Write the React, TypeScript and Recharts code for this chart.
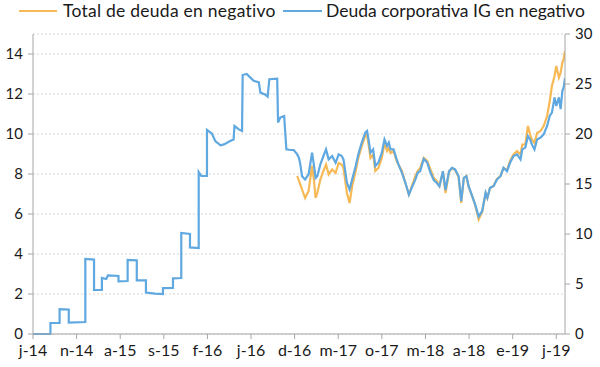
import React from 'react';
import { LineChart, Line, XAxis, YAxis, CartesianGrid } from 'recharts';

// meses desde junio 2014 (0 = j-14)
const mesesCorp = [
  0, 2.0, 2.0, 3.05, 3.05, 4.1, 4.1, 6.0, 6.0, 7.0, 7.0, 7.9, 7.9, 8.4, 8.6, 9.8, 9.8, 10.85, 10.85, 11.9,
  11.9, 12.95, 12.95, 14.0, 14.9, 14.9, 16.05, 16.05, 17.0, 17.0, 18.0, 18.0, 19.0, 19.0, 19.3, 19.95, 19.95,
  20.5, 20.9, 21.5, 21.9, 22.6, 23.0, 23.1, 23.6, 23.97, 24.04, 24.5, 24.9, 25.3, 25.9, 26.07, 26.6, 26.9,
  27.1, 28.0, 28.1, 28.36, 28.8, 29.05, 29.5, 29.9, 30.3, 30.5, 30.65, 30.85, 31.2, 31.6, 32.0, 32.2, 32.4,
  32.6, 32.95, 33.3, 33.6, 33.9, 34.3, 34.7, 35.05, 35.4, 35.6, 36.0, 36.3, 36.6, 37.0, 37.3, 37.7, 38.1,
  38.3, 38.5, 38.7, 39.0, 39.25, 39.6, 40.0, 40.3, 40.6, 40.8, 41.0, 41.35, 41.7, 41.9, 42.3, 42.7, 43.1,
  43.5, 43.85, 44.1, 44.4, 44.8, 45.2, 45.55, 45.95, 46.3, 46.6, 47.0, 47.3, 47.7, 48.05, 48.4, 48.8, 49.1,
  49.4, 49.7, 49.95, 50.3, 50.7, 51.1, 51.5, 51.9, 52.1, 52.4, 52.8, 53.2, 53.6, 53.95, 54.35, 54.7, 55.1,
  55.5, 55.9, 56.1, 56.45, 56.75, 57.0, 57.2, 57.5, 57.8, 58.2, 58.55, 58.95, 59.25, 59.5, 59.8, 60.0, 60.3,
  60.5, 60.7, 60.85, 61.0,
];

// Deuda corporativa IG en negativo (eje izquierdo)
const deudaCorp = [
  0, 0, 0.55, 0.55, 1.24, 1.22, 0.57, 0.6, 3.75, 3.72, 2.2, 2.2, 2.8, 2.75, 2.93, 2.9, 2.63, 2.65, 3.71, 3.68,
  2.68, 2.68, 2.07, 2.02, 2.0, 2.29, 2.3, 2.78, 2.8, 5.05, 5.0, 4.33, 4.3, 8.1, 7.9, 7.9, 10.2,
  10.03, 9.65, 9.43, 9.48, 9.65, 9.73, 10.4, 10.23, 10.15, 12.95, 13.0, 12.83, 12.66, 12.58, 12.07, 11.98, 11.87,
  12.74, 12.77, 10.57, 10.82, 10.9, 9.23, 9.2, 9.2, 8.98, 8.8, 8.48, 7.89, 7.73, 7.98, 9.07, 8.48, 7.8,
  7.89, 8.48, 8.9, 9.23, 8.73, 8.9, 8.56, 8.98, 8.9, 8.73, 7.56, 7.23, 7.73, 8.4, 8.98, 9.57, 10.07,
  10.15, 9.65, 9.07, 9.23, 8.4, 8.57, 9.07, 9.73, 9.4, 9.57, 9.23, 9.23, 8.73, 8.48, 8.06, 7.56, 6.97,
  7.39, 7.73, 8.06, 8.15, 8.75, 8.57, 8.1, 7.7, 7.55, 7.39, 8.14, 7.2, 8.14, 8.31, 8.23, 7.89, 6.64,
  7.81, 7.89, 7.39, 6.97, 6.47, 5.88, 6.14, 7.06, 6.81, 7.31, 7.39, 7.73, 7.89, 8.31, 8.14, 8.56, 8.9,
  8.98, 8.73, 9.23, 9.32, 9.9, 9.73, 9.48, 9.23, 9.73, 9.82, 9.98, 10.4, 10.9, 11.07, 11.83, 11.4, 11.83,
  11.24, 12.16, 12.33, 12.8,
];

const mesesTotal = [
  30.3, 30.5, 30.65, 30.85, 31.2, 31.6, 32.0, 32.2, 32.4, 32.6, 32.95, 33.3, 33.6, 33.9, 34.3, 34.7, 35.05,
  35.4, 35.6, 36.0, 36.3, 36.6, 37.0, 37.3, 37.7, 38.1, 38.3, 38.5, 38.7, 39.0, 39.25, 39.6, 40.0, 40.3,
  40.6, 40.8, 41.0, 41.35, 41.7, 41.9, 42.3, 42.7, 43.1, 43.5, 43.85, 44.1, 44.4, 44.8, 45.2, 45.55, 45.95,
  46.3, 46.6, 47.0, 47.3, 47.7, 48.05, 48.4, 48.8, 49.1, 49.4, 49.7, 49.95, 50.3, 50.7, 51.1, 51.5, 51.9,
  52.1, 52.4, 52.8, 53.2, 53.6, 53.95, 54.35, 54.7, 55.1, 55.5, 55.9, 56.1, 56.45, 56.75, 57.0, 57.2, 57.5,
  57.8, 58.2, 58.55, 58.95, 59.25, 59.5, 59.8, 60.0, 60.3, 60.5, 60.7, 60.85, 61.0,
];

// Total de deuda en negativo (eje derecho)
const deudaTotal = [
  15.8, 15.3, 14.95, 14.45, 13.6, 14.3, 16.8, 15.5, 13.6, 14.1, 15.45, 16.3, 16.95, 15.95, 16.45, 16.1, 17.1,
  16.95, 16.6, 14.1, 13.1, 14.8, 16.3, 17.6, 18.8, 19.8, 19.95, 18.8, 17.6, 17.95, 16.3, 16.6, 17.6, 19.1,
  18.3, 18.6, 18.1, 18.3, 17.3, 16.95, 16.3, 15.1, 13.95, 14.95, 15.8, 16.3, 16.6, 17.6, 17.3, 16.5, 15.6,
  15.3, 14.8, 16.2, 14.1, 16.2, 16.6, 16.4, 15.7, 13.1, 15.6, 15.8, 14.7, 13.9, 12.9, 11.45, 12.2, 14.1,
  13.6, 14.6, 14.8, 15.5, 15.8, 16.6, 16.4, 17.3, 17.95, 18.3, 17.95, 18.95, 18.95, 20.8, 19.95, 19.45, 19.1,
  20.1, 20.3, 20.8, 21.8, 23.3, 24.8, 25.8, 26.8, 25.65, 26.15, 27.15, 27.5, 28.3,
];

const etiquetasMes = ['j-14', 'n-14', 'a-15', 's-15', 'f-16', 'j-16', 'd-16', 'm-17', 'o-17', 'm-18', 'a-18', 'e-19', 'j-19'];
const ticksX = etiquetasMes.map((_, i) => i * 5);
const ticksIzq = [0, 2, 4, 6, 8, 10, 12, 14];
const ticksDer = [0, 5, 10, 15, 20, 25, 30];

const NARANJA = '#F6B955';
const AZUL = '#5FA8E0';
const FUENTE = 'Lato, "Open Sans", sans-serif';

const datosCorp = mesesCorp.map((m, i) => ({ mes: m, corp: deudaCorp[i] }));
const datosTotal = mesesTotal.map((m, i) => ({ mes: m, total: deudaTotal[i] }));

const textoLeyenda: React.CSSProperties = {
  position: 'absolute',
  top: 0,
  lineHeight: '22px',
  fontFamily: FUENTE,
  fontSize: 17.5,
  color: '#1a1a1a',
  whiteSpace: 'nowrap',
};

const Leyenda = () => (
  <div style={{ position: 'absolute', left: 0, top: 0, width: 600, height: 24 }}>
    <span style={{ position: 'absolute', left: 19, top: 10, width: 38, height: 2, background: NARANJA }} />
    <span style={{ ...textoLeyenda, left: 63, letterSpacing: 0.25 }}>Total de deuda en negativo</span>
    <span style={{ position: 'absolute', left: 283, top: 10, width: 39, height: 2, background: AZUL }} />
    <span style={{ ...textoLeyenda, left: 326 }}>Deuda corporativa IG en negativo</span>
  </div>
);

const tickStyle = { fontFamily: FUENTE, fontSize: 15, fill: '#1a1a1a' };

export default function App() {
  return (
    <div style={{ position: 'absolute', left: 0, top: 0, width: 600, height: 367, background: '#fff' }}>
      <LineChart width={600} height={367} margin={{ top: 34, right: 0, bottom: 0, left: 0 }}>
        <CartesianGrid yAxisId="izq" vertical={false} stroke="#d6d6d6" strokeDasharray="2 2" />
        <XAxis
          type="number"
          dataKey="mes"
          domain={[0, 61]}
          ticks={ticksX}
          tickFormatter={(v: number) => etiquetasMes[Math.round(v / 5)]}
          allowDataOverflow
          height={33}
          stroke="#a6a6a6"
          tickSize={5}
          tickMargin={6}
          tick={{ ...tickStyle, fontSize: 16 }}
        />
        <YAxis
          yAxisId="izq"
          domain={[0, 15]}
          ticks={ticksIzq}
          width={33}
          stroke="#a6a6a6"
          tickSize={5}
          tickMargin={5}
          tick={tickStyle}
        />
        <YAxis
          yAxisId="der"
          orientation="right"
          domain={[0, 30]}
          ticks={ticksDer}
          width={35}
          stroke="#a6a6a6"
          tickSize={5}
          tickMargin={5}
          tick={{ ...tickStyle, textAnchor: 'start' }}
        />
        <Line
          yAxisId="der"
          data={datosTotal}
          dataKey="total"
          name="Total de deuda en negativo"
          type="linear"
          stroke={NARANJA}
          strokeWidth={2.2}
          dot={false}
          isAnimationActive={false}
        />
        <Line
          yAxisId="izq"
          data={datosCorp}
          dataKey="corp"
          name="Deuda corporativa IG en negativo"
          type="linear"
          stroke={AZUL}
          strokeWidth={2.2}
          dot={false}
          isAnimationActive={false}
        />
      </LineChart>
      <Leyenda />
    </div>
  );
}
